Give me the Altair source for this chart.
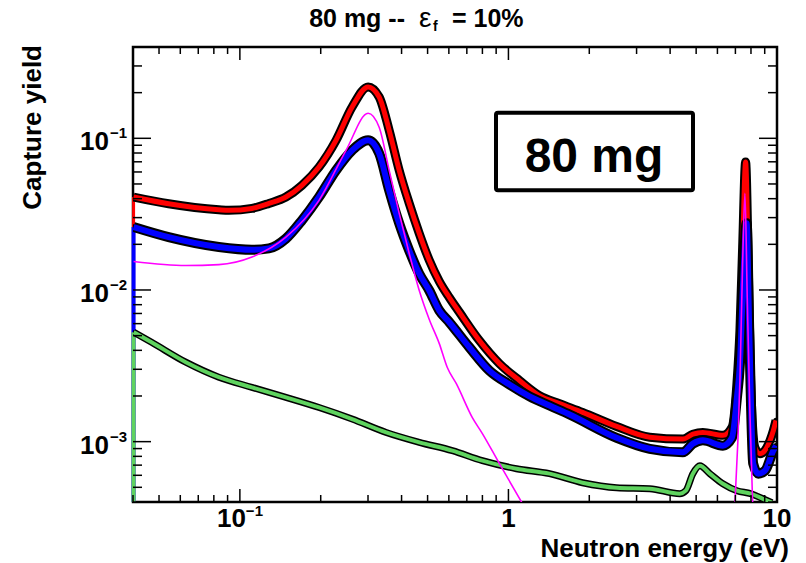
import altair as alt
import pandas as pd

# ---------------- data ----------------
red_e = [0.0402, 0.0543, 0.0835, 0.0910, 0.1109, 0.1283, 0.1484, 0.1703, 0.1971, 0.2281,
         0.2618, 0.3003, 0.3301, 0.3597, 0.3920, 0.4272, 0.4655, 0.5073, 0.5528, 0.6024,
         0.6566, 0.7795, 0.9256, 1.099, 1.305, 1.550, 1.888, 2.529, 3.358, 4.460,
         4.861, 5.296, 6.288, 6.795, 7.092, 7.277, 7.447, 7.641, 7.814, 7.976,
         8.278, 8.642, 9.155, 9.688, 9.915]
red_y = [0.0410, 0.0370, 0.0338, 0.0335, 0.0345, 0.0372, 0.0410, 0.0490, 0.0646, 0.0970,
         0.1609, 0.2182, 0.1873, 0.1129, 0.0615, 0.0372, 0.0236, 0.0157, 0.0114, 0.00892,
         0.00714, 0.00464, 0.00327, 0.00253, 0.00201, 0.00178, 0.00156, 0.00126, 0.00107, 0.00104,
         0.00112, 0.00115, 0.00110, 0.00124, 0.00241, 0.00540, 0.0191, 0.0698, 0.0150, 0.00253,
         0.000913, 0.000833, 0.000913, 0.00118, 0.00138]

blue_e = [0.0402, 0.0543, 0.0835, 0.1109, 0.1283, 0.1484, 0.1703, 0.1971, 0.2281, 0.2618,
          0.3003, 0.3301, 0.3597, 0.3920, 0.4272, 0.4655, 0.5073, 0.5528, 0.6024, 0.7151,
          0.8493, 1.0086, 1.198, 1.422, 1.689, 2.529, 3.358, 4.460, 4.861, 5.296,
          6.288, 6.795, 7.092, 7.277, 7.486, 7.709, 7.882, 8.155, 8.515, 9.021,
          9.688, 9.915]
blue_y = [0.0260, 0.0223, 0.0192, 0.0184, 0.0188, 0.0218, 0.0288, 0.0410, 0.0615, 0.0833,
          0.0970, 0.0796, 0.0454, 0.0275, 0.0182, 0.0128, 0.00992, 0.00732, 0.00613, 0.00419,
          0.00294, 0.00238, 0.00199, 0.00173, 0.00151, 0.00106, 0.000897, 0.000851, 0.00097, 0.00102,
          0.000941, 0.00106, 0.00195, 0.00327, 0.0116, 0.0275, 0.00540, 0.000716, 0.000615, 0.000643,
          0.000872, 0.000941]

green_e = [0.0402, 0.0469, 0.0629, 0.0835, 0.1109, 0.1484, 0.1971, 0.2618, 0.3506, 0.4655,
           0.6180, 0.7998, 1.071, 1.422, 1.888, 2.529, 3.358, 4.346, 4.576, 4.861,
           5.161, 5.623, 6.288, 7.092, 7.976, 8.867, 9.579]
green_y = [0.00527, 0.00452, 0.00334, 0.00266, 0.00228, 0.00196, 0.00168, 0.00141, 0.00115, 0.000990,
           0.000872, 0.000749, 0.000663, 0.000615, 0.000536, 0.000497, 0.000490, 0.000454, 0.000475, 0.000615,
           0.000694, 0.000615, 0.000528, 0.000475, 0.000454, 0.000420, 0.000396]

fit1_e = [0.0402, 0.0629, 0.0835, 0.1109, 0.1484, 0.1971, 0.2485, 0.3003, 0.3301, 0.3597,
          0.3920, 0.4272, 0.4655, 0.5073, 0.5528, 0.5921, 0.6397, 0.7339, 0.7998, 0.9256, 1.128]
fit1_y = [0.0154, 0.0145, 0.0147, 0.0165, 0.0223, 0.0390, 0.0833, 0.1462, 0.1182, 0.0615,
          0.0320, 0.0174, 0.00992, 0.00639, 0.00443, 0.00308, 0.00241, 0.00144, 0.00113, 0.000716, 0.00039]
fit2_e = [6.970, 7.277, 7.447, 7.596, 7.748, 7.931, 8.116]
fit2_y = [0.00039, 0.00253, 0.0150, 0.0434, 0.00892, 0.00153, 0.00039]

x_major = [0.1, 1, 10]
x_minor = [0.04, 0.05, 0.06, 0.07, 0.08, 0.09, 0.2, 0.3, 0.4, 0.5, 0.6, 0.7, 0.8, 0.9,
           2, 3, 4, 5, 6, 7, 8, 9]
y_major = [0.001, 0.01, 0.1]
y_minor = [0.0004, 0.0005, 0.0006, 0.0007, 0.0008, 0.0009,
           0.002, 0.003, 0.004, 0.005, 0.006, 0.007, 0.008, 0.009,
           0.02, 0.03, 0.04, 0.05, 0.06, 0.07, 0.08, 0.09, 0.2, 0.3, 0.4]
x_pow_vals = [0.1]
x_pow_exp = ["\u22121"]
x_plain_vals = [1, 10]
x_plain_text = ["1", "10"]
y_lab_vals = [0.001, 0.01, 0.1]
y_lab_exp = ["\u22123", "\u22122", "\u22121"]

title_parts = ["80 mg --", "\u03b5", "f", "= 10%"]
box_text = ["80 mg"]
x_title = ["Neutron energy (eV)"]
y_title = ["Capture yield"]

# ---------------- layout ----------------
W, H = 644, 455
FONT = "Liberation Sans"
RED, BLUE, GREEN, MAG = "#ff0000", "#0000ff", "#5fd35f", "#ff00ff"

xs = alt.Scale(type="log", domain=[0.04, 10], nice=False)
ys = alt.Scale(type="log", domain=[0.0004, 0.4], nice=False)


def df_xy(e, y):
    return pd.DataFrame({"e": e, "y": y})


def X():
    return alt.X("e:Q", scale=xs, axis=None)


def Y():
    return alt.Y("y:Q", scale=ys, axis=None)


def curve(e, y, color, w_black, w_col, dot):
    d = df_xy(e, y)
    base = alt.Chart(d)
    under = base.mark_line(color="black", strokeWidth=w_black, interpolate="monotone",
                           clip=True).encode(x=X(), y=Y())
    pts = base.mark_circle(color="black", size=dot, opacity=1, clip=True).encode(x=X(), y=Y())
    top = base.mark_line(color=color, strokeWidth=w_col, interpolate="monotone",
                         clip=True).encode(x=X(), y=Y())
    return [under, pts, top]


def edge(e, y, color, w):
    d = pd.DataFrame({"e": [e[0]], "y": [y[0]]})
    return alt.Chart(d).mark_rule(color=color, strokeWidth=w).encode(
        x=X(), y=Y(), y2=alt.value(H))


layers = []
layers += [edge(red_e, red_y, RED, 3), edge(blue_e, blue_y, BLUE, 4), edge(green_e, green_y, GREEN, 4)]
layers += curve(red_e, red_y, RED, 9, 5, 30)
layers += curve(blue_e, blue_y, BLUE, 10, 6, 30)
layers += curve(green_e, green_y, GREEN, 7, 4, 16)

fit = pd.concat([
    pd.DataFrame({"e": fit1_e, "y": fit1_y, "seg": "a"}),
    pd.DataFrame({"e": fit2_e, "y": fit2_y, "seg": "b"}),
])
layers.append(alt.Chart(fit).mark_line(color=MAG, strokeWidth=1.6, interpolate="monotone",
                                       clip=True).encode(x=X(), y=Y(), detail="seg:N"))

# ---------------- ticks (inside the frame, all four sides) ----------------
def xticks(vals, L):
    d = pd.DataFrame({"e": vals})
    b = alt.Chart(d).mark_rule(color="black", strokeWidth=1.5)
    return [b.encode(x=X(), y=alt.value(H), y2=alt.value(H - L)),
            b.encode(x=X(), y=alt.value(0), y2=alt.value(L))]


def yticks(vals, L):
    d = pd.DataFrame({"y": vals})
    b = alt.Chart(d).mark_rule(color="black", strokeWidth=1.5)
    return [b.encode(y=Y(), x=alt.value(0), x2=alt.value(L)),
            b.encode(y=Y(), x=alt.value(W), x2=alt.value(W - L))]


layers += xticks(x_minor, 7) + xticks(x_major, 13)
layers += yticks(y_minor, 9) + yticks(y_major, 18)

# ---------------- tick labels ----------------
lab = dict(font=FONT, fontWeight="bold", color="black")
XL = H + 17
dxp = pd.DataFrame({"e": x_pow_vals, "t": ["10"] * len(x_pow_vals), "x": x_pow_exp})
layers.append(alt.Chart(dxp).mark_text(align="right", baseline="middle", fontSize=26, dx=6, **lab)
              .encode(x=X(), y=alt.value(XL), text="t:N"))
layers.append(alt.Chart(dxp).mark_text(align="left", baseline="middle", fontSize=15, dx=6, dy=-8, **lab)
              .encode(x=X(), y=alt.value(XL), text="x:N"))
dxl = pd.DataFrame({"e": x_plain_vals, "t": x_plain_text})
layers.append(alt.Chart(dxl).mark_text(align="center", baseline="middle", fontSize=26, **lab)
              .encode(x=X(), y=alt.value(XL), text="t:N"))

dyl = pd.DataFrame({"y": y_lab_vals, "t": ["10"] * len(y_lab_vals), "x": y_lab_exp})
layers.append(alt.Chart(dyl).mark_text(align="right", baseline="middle", fontSize=26, dy=4, **lab)
              .encode(y=Y(), x=alt.value(-24), text="t:N"))
layers.append(alt.Chart(dyl).mark_text(align="left", baseline="middle", fontSize=15, dy=-5, **lab)
              .encode(y=Y(), x=alt.value(-23), text="x:N"))

# ---------------- axis titles ----------------
layers.append(alt.Chart(pd.DataFrame({"t": x_title})).mark_text(
    align="right", baseline="alphabetic", fontSize=26, **lab).encode(
    x=alt.value(656), y=alt.value(H + 55), text="t:N"))
layers.append(alt.Chart(pd.DataFrame({"t": y_title})).mark_text(
    align="right", baseline="middle", fontSize=26, angle=270, **lab).encode(
    x=alt.value(-100), y=alt.value(-2), text="t:N"))

# ---------------- title ----------------
tdf = pd.DataFrame({"t": title_parts})
layers.append(alt.Chart(tdf.iloc[[0]]).mark_text(align="right", baseline="alphabetic", fontSize=25, **lab)
              .encode(x=alt.value(405 - 133), y=alt.value(27 - 47), text="t:N"))
layers.append(alt.Chart(tdf.iloc[[1]]).mark_text(align="left", baseline="alphabetic", fontSize=28,
                                                 font=FONT, color="black")
              .encode(x=alt.value(419 - 133), y=alt.value(27 - 47), text="t:N"))
layers.append(alt.Chart(tdf.iloc[[2]]).mark_text(align="left", baseline="alphabetic", fontSize=14, **lab)
              .encode(x=alt.value(433 - 133), y=alt.value(31 - 47), text="t:N"))
layers.append(alt.Chart(tdf.iloc[[3]]).mark_text(align="left", baseline="alphabetic", fontSize=25, **lab)
              .encode(x=alt.value(452 - 133), y=alt.value(27 - 47), text="t:N"))

# ---------------- label box ----------------
bdf = pd.DataFrame({"t": box_text})
layers.append(alt.Chart(bdf).mark_rect(fill="white", stroke="black", strokeWidth=4, cornerRadius=2)
              .encode(x=alt.value(363), x2=alt.value(560), y=alt.value(65.7), y2=alt.value(143.3)))
layers.append(alt.Chart(bdf).mark_text(align="center", baseline="alphabetic", fontSize=48, **lab)
              .encode(x=alt.value(594 - 133), y=alt.value(172 - 47), text="t:N"))

chart = alt.layer(*layers).properties(
    width=W, height=H,
    autosize=alt.AutoSizeParams(type="none"),
    padding={"left": 133, "top": 47, "right": 29, "bottom": 61},
    background="white",
).configure_view(stroke="black", strokeWidth=2.5)

chart.save("out.html", embed_options={"renderer": "svg", "actions": False})
